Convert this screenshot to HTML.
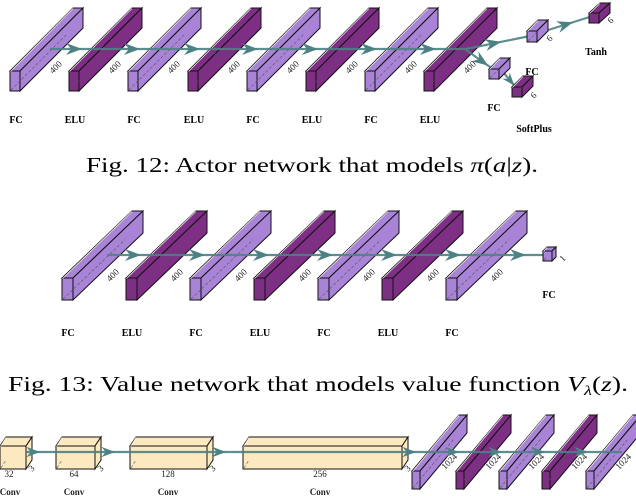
<!DOCTYPE html>
<html><head><meta charset="utf-8"><style>
body{margin:0;background:#fff;width:636px;height:496px;overflow:hidden}
svg{display:block}
.lb{font-family:"Liberation Serif",serif;font-weight:bold;font-size:10px;fill:#000;text-anchor:middle}
.cap{font-family:"Liberation Serif",serif;font-size:21px;fill:#000}
.n{font-family:"Liberation Serif",serif;font-size:9px;fill:#222}
</style></head><body>
<svg id="s" width="636" height="496" viewBox="0 0 636 496" xmlns="http://www.w3.org/2000/svg">
<text class="cap" x="86" y="172" textLength="452" lengthAdjust="spacingAndGlyphs">Fig. 12: Actor network that models <tspan font-style="italic">π</tspan>(<tspan font-style="italic">a</tspan>|<tspan font-style="italic">z</tspan>).</text>
<text class="cap" x="8" y="391" textLength="620" lengthAdjust="spacingAndGlyphs">Fig. 13: Value network that models value function <tspan font-style="italic">V</tspan><tspan font-size="14" dy="4" font-style="italic">λ</tspan><tspan dy="-4">(</tspan><tspan font-style="italic">z</tspan>).</text>
</svg>
<script>
var s=document.getElementById('s'),out='';
var L='#a983d6',D='#7e2e84',C='#fde9c0',T='#4d8284';
function poly(p,f){return '<polygon points="'+p.map(a=>a.join(',')).join(' ')+'" fill="'+f+'" stroke="#111" stroke-width="1"/>';}
function box(x,y,w,h,dx,dy,f){
 var o='';
 o+=poly([[x,y],[x+dx,y+dy],[x+w+dx,y+dy],[x+w,y]],f);
 o+=poly([[x+w,y],[x+w+dx,y+dy],[x+w+dx,y+h+dy],[x+w,y+h]],f);
 o+=poly([[x,y],[x+w,y],[x+w,y+h],[x,y+h]],f);
 o+='<line x1="'+(x+1)+'" y1="'+(y+h-1)+'" x2="'+(x+dx*0.9)+'" y2="'+(y+h+dy*0.9)+'" stroke="#555" stroke-width="0.6" stroke-dasharray="3,2"/>';
 o+='<line x1="'+(x+0.5)+'" y1="'+(y+0.5)+'" x2="'+(x+dx)+'" y2="'+(y+dy+0.5)+'" stroke="#fff" stroke-width="0.7"/>';
 return o;}
function head(x,y,ang,sc){sc=sc||1;return '<g transform="translate('+x+','+y+') rotate('+ang+') scale('+sc+')"><path d="M-16,-6 L0,0 L-16,6 L-11,0 Z" fill="'+T+'"/></g>';}
function line(x1,y1,x2,y2){return '<line x1="'+x1+'" y1="'+y1+'" x2="'+x2+'" y2="'+y2+'" stroke="'+T+'" stroke-width="2.2" stroke-opacity="0.9"/>';}
function seg(x1,y1,x2,y2,t,sc){var a=Math.atan2(y2-y1,x2-x1)*180/Math.PI;return line(x1,y1,x2,y2)+head(x1+(x2-x1)*t,y1+(y2-y1)*t,a,sc);}
function rl(x,y,t,fs){return '<text class="n"'+(fs?' font-size="'+fs+'"':'')+' transform="translate('+x+','+y+') rotate(-45)">'+t+'</text>';}
function lab(x,y,t,fs){return '<text class="lb"'+(fs?' font-size="'+fs+'"':'')+' x="'+x+'" y="'+y+'">'+t+'</text>';}
var xs=[10,69,128,188,247,306,365,424],names=['FC','ELU','FC','ELU','FC','ELU','FC','ELU'];
xs.forEach(function(x,i){out+=box(x,71,10,20,63,-63,i%2?D:L);out+=rl(x+43,74,'400');out+=lab(x+6,123,names[i]);});
out+=line(50,49,468,49);
[82,140,200,258,318,377,436].forEach(function(x){out+=head(x,49,0);});
out+=seg(466,49,530,36,0.55);out+=seg(545,31,596,15,0.55);
out+=seg(466,50,500,74,0.65);out+=seg(503,72,518,90,0.75,0.8);
out+=box(527,31,10,11,11,-11,L);out+=rl(550,42,'6');
out+=box(589,13,10,10,11,-10,D);out+=rl(611,24,'6');
out+=box(489,69,10,10,11,-11,L);
out+=box(512,87,10,10,11,-11,D);out+=rl(534,99,'6');
out+=lab(532,75,'FC');out+=lab(494,111,'FC');out+=lab(534,132,'SoftPlus');out+=lab(596,55,'Tanh');
var xm=[62,126,190,254,318,382,446],nm=['FC','ELU','FC','ELU','FC','ELU','FC'];
xm.forEach(function(x,i){out+=box(x,278,11,22,70,-67,i%2?D:L);out+=rl(x+48,282,'400');out+=lab(x+6,336,nm[i]);});
out+=line(107,255,545,255);
[141,205,269,333,397,461,526].forEach(function(x){out+=head(x,255,0);});
out+=box(543,251,9,10,4,-4,L);out+=rl(563,262,'1');out+=lab(549,298,'FC');
[[0,26,'32',9,10],[56,39,'64',74,74],[130,77,'128',168,168],[243,159,'256',320,320]].forEach(function(b){
 out+=box(b[0],446,b[1],23,6,-9,C);out+=rl(b[0]+b[1]+6,472,'3',6);
 out+='<text class="n" font-size="8" x="'+b[3]+'" y="477" text-anchor="middle">'+b[2]+'</text>';
 out+='<text class="n" font-size="8" font-weight="bold" x="'+b[4]+'" y="495" text-anchor="middle">Conv</text>';});
var xb=[412,456,499,542,586],nb=['FC','ReLU','FC','ReLU','FC'];
xb.forEach(function(x,i){out+=box(x,471,8,18,47,-56,i%2?D:L);out+=rl(x+33,470,'1024',6);
 out+=lab(x+4,503,nb[i],8);});
out+=line(26,452,622,452);
[40,115,226,416,459,502,545,588].forEach(function(x){out+=head(x,452,0,0.85);});
s.insertAdjacentHTML('beforeend',out);
</script>
</body></html>
